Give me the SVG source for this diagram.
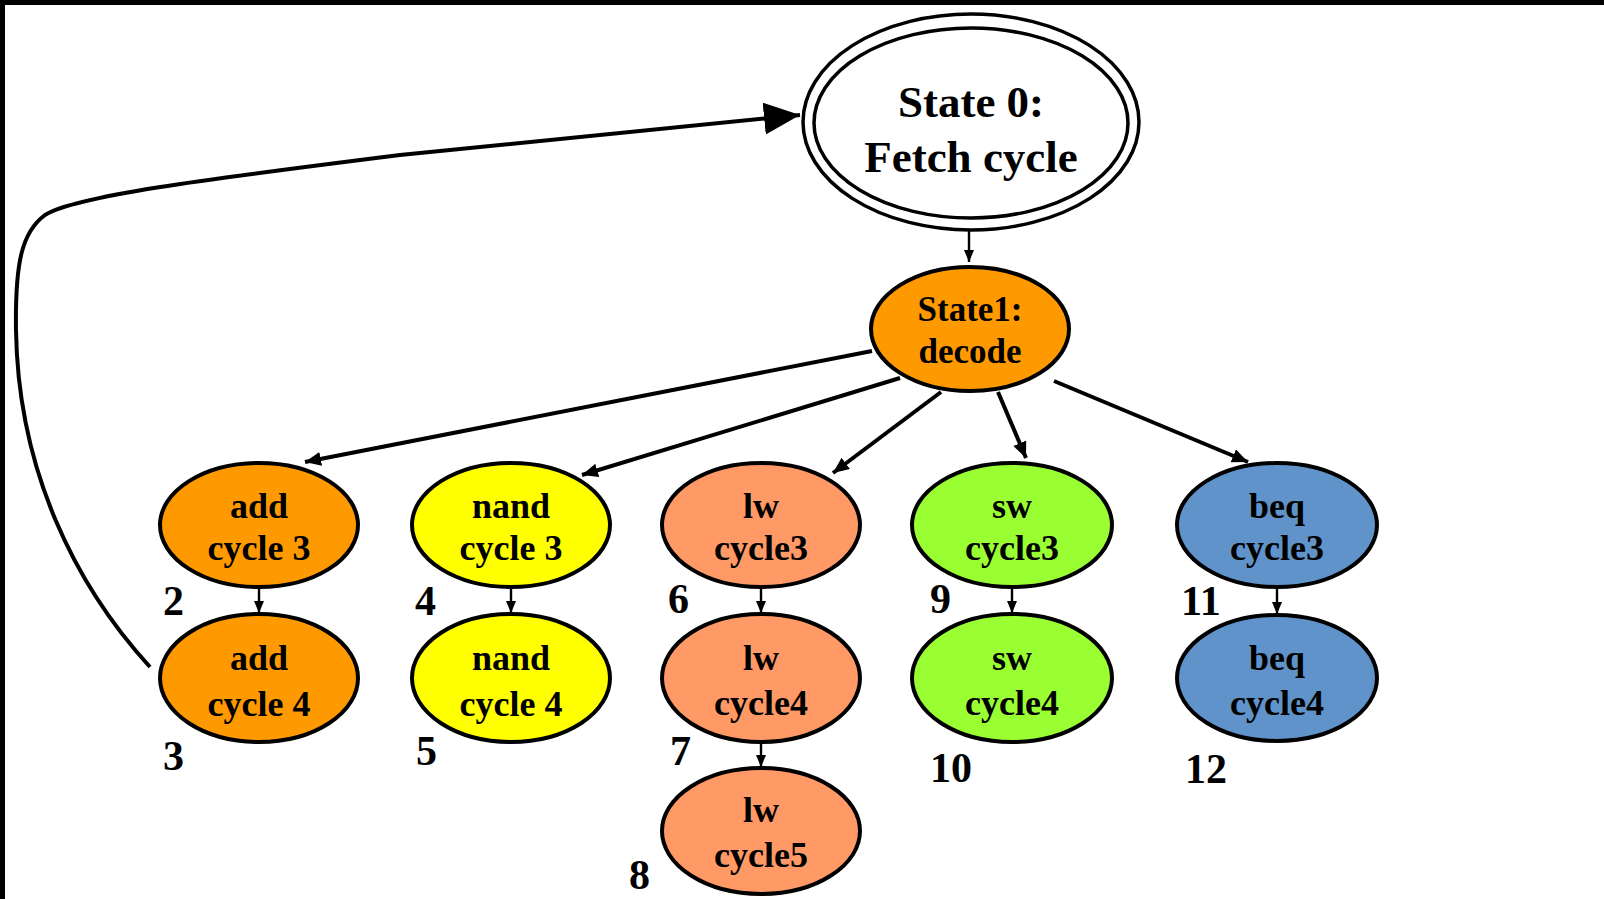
<svg xmlns="http://www.w3.org/2000/svg" width="1604" height="899" viewBox="0 0 1604 899">
<style>
.n{stroke:#000;stroke-width:4}
.t{font-family:"Liberation Serif","Times New Roman",serif;font-weight:bold;font-size:36px;text-anchor:middle;fill:#000}
.num{font-family:"Liberation Serif","Times New Roman",serif;font-weight:bold;font-size:42px;fill:#000}
.e{fill:none;stroke:#000;stroke-width:4}
.s{fill:none;stroke:#000;stroke-width:2.4}
.or{fill:#FF9900}.ye{fill:#FFFF00}.lw{fill:#FF9966}.sw{fill:#99FF33}.bq{fill:#6093C9}
</style>
<defs>
<marker id="big" markerUnits="userSpaceOnUse" markerWidth="40" markerHeight="36" refX="36" refY="16" orient="auto" viewBox="0 0 40 36">
<path d="M0,0 L36,16 L0,32 z" fill="#000"/>
</marker>
<marker id="mid" markerUnits="userSpaceOnUse" markerWidth="18" markerHeight="16" refX="16" refY="7" orient="auto" viewBox="0 0 18 16">
<path d="M0,0 L16,7 L0,14 z" fill="#000"/>
</marker>
<marker id="sm" markerUnits="userSpaceOnUse" markerWidth="14" markerHeight="12" refX="12" refY="5" orient="auto" viewBox="0 0 14 12">
<path d="M0,0 L12,5 L0,10 z" fill="#000"/>
</marker>
</defs>
<rect x="0" y="0" width="1604" height="899" fill="#fff"/>
<rect x="0" y="0" width="1604" height="5" fill="#000"/>
<rect x="0" y="0" width="5" height="899" fill="#000"/>

<g id="connectors">
<path class="e" d="M150,667 C75,585 18,470 16,330 C15,262 22,232 45,215 C75,196 200,180 400,155 L800,115" marker-end="url(#big)"/>
<line class="s" x1="969" y1="231" x2="969" y2="262" marker-end="url(#sm)"/>
<line class="e" x1="872" y1="351" x2="305" y2="462" marker-end="url(#mid)"/>
<line class="e" x1="900" y1="378" x2="582" y2="475" marker-end="url(#mid)"/>
<line class="e" x1="941" y1="392" x2="833" y2="473" marker-end="url(#mid)"/>
<line class="e" x1="998" y1="392" x2="1026" y2="458" marker-end="url(#mid)"/>
<line class="e" x1="1054" y1="381" x2="1248" y2="462" marker-end="url(#mid)"/>
<line class="s" x1="259" y1="588" x2="259" y2="613" marker-end="url(#sm)"/>
<line class="s" x1="511" y1="588" x2="511" y2="613" marker-end="url(#sm)"/>
<line class="s" x1="761" y1="588" x2="761" y2="613" marker-end="url(#sm)"/>
<line class="s" x1="761" y1="742" x2="761" y2="767" marker-end="url(#sm)"/>
<line class="s" x1="1012" y1="588" x2="1012" y2="613" marker-end="url(#sm)"/>
<line class="s" x1="1277" y1="588" x2="1277" y2="614" marker-end="url(#sm)"/>
</g>

<g id="state0">
<ellipse cx="971" cy="122" rx="168" ry="108" fill="#fff" stroke="#000" stroke-width="3.5"/>
<ellipse cx="971" cy="123" rx="157" ry="95" fill="none" stroke="#000" stroke-width="3.5"/>
<text class="t" x="971" y="117" style="font-size:45px">State 0:</text>
<text class="t" x="971" y="172" style="font-size:45px">Fetch cycle</text>
</g>
<g id="state1">
<ellipse class="n or" cx="970" cy="329" rx="99" ry="62"/>
<text class="t" x="970" y="321" style="font-size:35px">State1:</text>
<text class="t" x="970" y="363" style="font-size:35px">decode</text>
</g>

<g id="add3">
<ellipse class="n or" cx="259" cy="525" rx="99" ry="62"/>
<text class="t" x="259" y="518">add</text>
<text class="t" x="259" y="560">cycle 3</text>
<text class="num" x="163" y="615">2</text>
</g>
<g id="add4">
<ellipse class="n or" cx="259" cy="678" rx="99" ry="64"/>
<text class="t" x="259" y="670">add</text>
<text class="t" x="259" y="716">cycle 4</text>
<text class="num" x="163" y="770">3</text>
</g>
<g id="nand3">
<ellipse class="n ye" cx="511" cy="525" rx="99" ry="62"/>
<text class="t" x="511" y="518">nand</text>
<text class="t" x="511" y="560">cycle 3</text>
<text class="num" x="415" y="615">4</text>
</g>
<g id="nand4">
<ellipse class="n ye" cx="511" cy="678" rx="99" ry="64"/>
<text class="t" x="511" y="670">nand</text>
<text class="t" x="511" y="716">cycle 4</text>
<text class="num" x="416" y="765">5</text>
</g>
<g id="lw3">
<ellipse class="n lw" cx="761" cy="525" rx="99" ry="62"/>
<text class="t" x="761" y="518">lw</text>
<text class="t" x="761" y="560">cycle3</text>
<text class="num" x="668" y="613">6</text>
</g>
<g id="lw4">
<ellipse class="n lw" cx="761" cy="678" rx="99" ry="64"/>
<text class="t" x="761" y="670">lw</text>
<text class="t" x="761" y="715">cycle4</text>
<text class="num" x="670" y="765">7</text>
</g>
<g id="lw5">
<ellipse class="n lw" cx="761" cy="831" rx="99" ry="63"/>
<text class="t" x="761" y="822">lw</text>
<text class="t" x="761" y="867">cycle5</text>
<text class="num" x="629" y="889">8</text>
</g>
<g id="sw3">
<ellipse class="n sw" cx="1012" cy="525" rx="100" ry="62"/>
<text class="t" x="1012" y="518">sw</text>
<text class="t" x="1012" y="560">cycle3</text>
<text class="num" x="930" y="613">9</text>
</g>
<g id="sw4">
<ellipse class="n sw" cx="1012" cy="678" rx="100" ry="64"/>
<text class="t" x="1012" y="670">sw</text>
<text class="t" x="1012" y="715">cycle4</text>
<text class="num" x="930" y="782">10</text>
</g>
<g id="beq3">
<ellipse class="n bq" cx="1277" cy="525" rx="100" ry="62"/>
<text class="t" x="1277" y="518">beq</text>
<text class="t" x="1277" y="560">cycle3</text>
<text class="num" x="1181" y="615">11</text>
</g>
<g id="beq4">
<ellipse class="n bq" cx="1277" cy="678" rx="100" ry="63"/>
<text class="t" x="1277" y="670">beq</text>
<text class="t" x="1277" y="715">cycle4</text>
<text class="num" x="1185" y="783">12</text>
</g>
</svg>
